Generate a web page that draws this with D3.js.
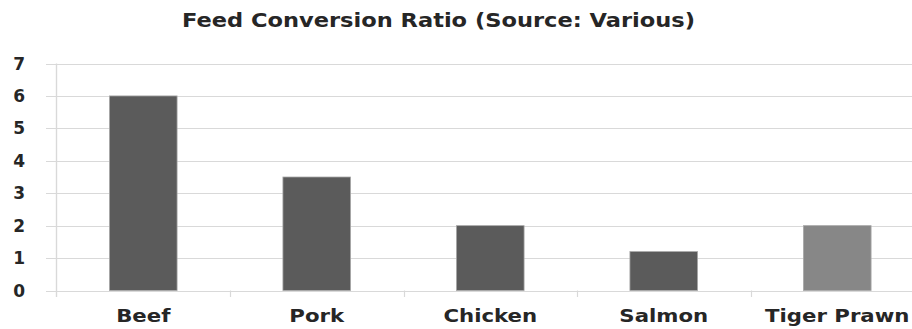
<!DOCTYPE html>
<html>
<head>
<meta charset="utf-8">
<script src="https://cdn.jsdelivr.net/npm/d3@7"></script>
<style>
  html, body { margin: 0; padding: 0; background: #fff; }
  svg { display: block; }
</style>
</head>
<body>
<div id="chart"></div>
<script>
// Feed conversion ratio by animal
const categories = ["Beef", "Pork", "Chicken", "Salmon", "Tiger Prawn"];
const values = [6, 3.5, 2, 1.2, 2];
const barColors = ["#5b5b5b", "#5b5b5b", "#5b5b5b", "#5b5b5b", "#878787"];
const yTicks = [0, 1, 2, 3, 4, 5, 6, 7];
const title = "Feed Conversion Ratio (Source: Various)";

const W = 912, H = 329;
const svg = d3.select("#chart").append("svg").attr("width", W).attr("height", H);

const x = d3.scaleBand().domain(categories).range([56.5, 924]).paddingInner(0).paddingOuter(0);
const y = d3.scaleLinear().domain([0, 7]).range([290.5, 63.5]);

const fontFam = "'DejaVu Sans', sans-serif";
const gridColor = "#d9d9d9";

// Horizontal gridlines with short ticks left of the axis
svg.append("g").selectAll("line").data(yTicks).join("line")
  .attr("x1", 46).attr("x2", W)
  .attr("y1", d => Math.round(y(d)) + 0.5).attr("y2", d => Math.round(y(d)) + 0.5)
  .attr("stroke", gridColor).attr("stroke-width", 1.2);

// Vertical axis line
svg.append("line")
  .attr("x1", 56.5).attr("x2", 56.5).attr("y1", y(7)).attr("y2", 297)
  .attr("stroke", gridColor).attr("stroke-width", 1.4);

// Category boundary ticks under the baseline
const bounds = categories.map(c => x(c)).concat([x.range()[1]]);
svg.append("g").selectAll("line").data(bounds.slice(1)).join("line")
  .attr("x1", d => Math.round(d) + 0.5).attr("x2", d => Math.round(d) + 0.5)
  .attr("y1", y(0)).attr("y2", 297)
  .attr("stroke", gridColor).attr("stroke-width", 1.2);

// Bars
const barW = x.bandwidth() * 0.39;
svg.append("g").selectAll("rect").data(categories).join("rect")
  .attr("x", d => x(d) + (x.bandwidth() - barW) / 2)
  .attr("y", (d, i) => y(values[i]))
  .attr("width", barW)
  .attr("height", (d, i) => y(0) - y(values[i]))
  .attr("fill", (d, i) => barColors[i])
  .attr("stroke", "#a8a8a8").attr("stroke-width", 0.8);

// Y tick labels
svg.append("g").selectAll("text").data(yTicks).join("text")
  .attr("x", 25).attr("y", d => y(d))
  .attr("dy", "0.36em")
  .attr("text-anchor", "end")
  .attr("font-family", fontFam).attr("font-weight", "bold").attr("font-size", 17)
  .attr("fill", "#262626")
  .text(d => d);

// X category labels (slightly widened glyphs)
svg.append("g").selectAll("text").data(categories).join("text")
  .attr("transform", d => `translate(${x(d) + x.bandwidth() / 2},322) scale(1.25,1)`)
  .attr("text-anchor", "middle")
  .attr("font-family", fontFam).attr("font-weight", "bold").attr("font-size", 17)
  .attr("fill", "#262626")
  .text(d => d);

// Title
svg.append("text")
  .attr("x", 182).attr("y", 27)
  .attr("textLength", 513).attr("lengthAdjust", "spacingAndGlyphs")
  .attr("font-family", fontFam).attr("font-weight", "bold").attr("font-size", 19)
  .attr("fill", "#262626")
  .text(title);
</script>
</body>
</html>
